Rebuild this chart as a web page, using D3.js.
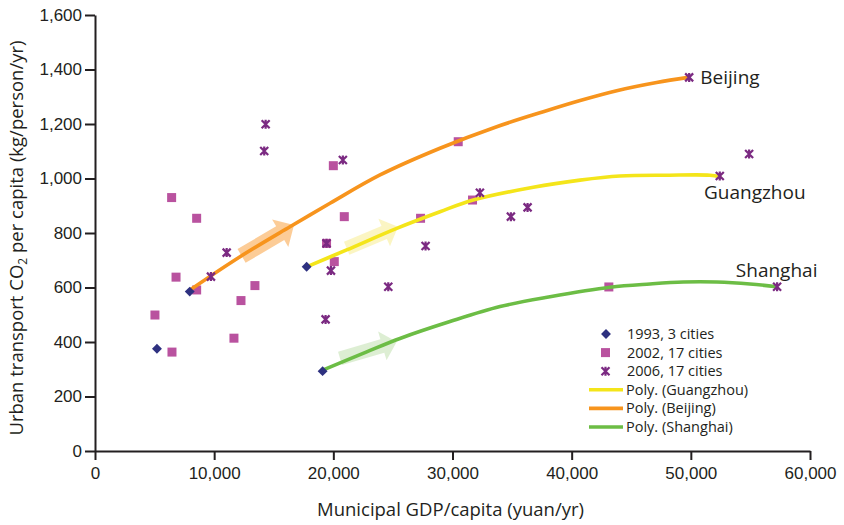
<!DOCTYPE html>
<html>
<head>
<meta charset="utf-8">
<script src="https://cdn.jsdelivr.net/npm/d3@7"></script>
<style>
  body { margin: 0; background: #fff; }
  svg { font-family: "Open Sans", "Noto Sans", sans-serif; }
  .axis path, .axis line { stroke: #231f20; stroke-width: 2; }
  .axis text { fill: #231f20; }
</style>
</head>
<body>
<div id="chart"></div>
<script>
// data
const xTicks = [0, 10000, 20000, 30000, 40000, 50000, 60000];
const yTicks = [0, 200, 400, 600, 800, 1000, 1200, 1400, 1600];

const pts1993 = [[5200, 375], [7950, 585], [17760, 676], [19100, 293]];
const pts2002 = [
  [5030, 499], [6460, 363], [6430, 930], [6800, 638], [8530, 854], [8530, 591],
  [11660, 414], [12250, 552], [13420, 607], [19430, 762], [20000, 1047], [20080, 695],
  [20920, 860], [27320, 854], [30480, 1135], [31680, 921], [43120, 602]
];
const pts2006 = [
  [14320, 1199], [14200, 1101], [11050, 728], [9730, 640], [19430, 762], [19800, 662],
  [24610, 603], [19350, 483], [27740, 752], [20800, 1068], [32300, 948], [34900, 860],
  [36300, 894], [49860, 1371], [54890, 1090], [52430, 1009], [57240, 603]
];

const beijing = [
  [7970, 591], [12170, 713], [16360, 823], [19720, 909], [23920, 1013], [28950, 1111],
  [33710, 1190], [37620, 1245], [40710, 1286], [43780, 1322], [47130, 1352], [49790, 1371]
];
const guangzhou = [
  [17760, 676], [21120, 738], [25320, 817], [28950, 878], [31740, 921], [36780, 968],
  [40700, 994], [44050, 1009], [48000, 1012], [51600, 1012], [52430, 1006]
];
const shanghai = [
  [19110, 297], [22800, 364], [25590, 413], [29790, 475], [33990, 530], [38180, 566],
  [43220, 601], [46570, 613], [49370, 620], [52170, 620], [54960, 613], [57200, 603]
];

// arrows: [tailX, tailY, tipX, tipY]
const arrowBeijing = [12300, 716, 16700, 829];
const arrowGuangzhou = [21120, 744, 25430, 823];
const arrowShanghai = [20560, 340, 25320, 401];

const cityLabels = ["Beijing", "Guangzhou", "Shanghai"];
const legendItems = ["1993, 3 cities", "2002, 17 cities", "2006, 17 cities",
  "Poly. (Guangzhou)", "Poly. (Beijing)", "Poly. (Shanghai)"];

const W = 844, H = 525;
const margin = { top: 15, right: 34, bottom: 74, left: 95 };
const innerW = W - margin.left - margin.right;
const innerH = H - margin.top - margin.bottom;

const cOrange = "#f7941d", cYellow = "#f4e51a", cGreen = "#6cbd45";
const cNavy = "#2e3180", cPink = "#b9529f", cPurple = "#7b2a82";

const svg = d3.select("#chart").append("svg")
  .attr("width", W).attr("height", H);

const g = svg.append("g")
  .attr("transform", `translate(${margin.left}, ${margin.top})`);

const x = d3.scaleLinear().domain([0, 60000]).range([0, innerW]);
const y = d3.scaleLinear().domain([0, 1600]).range([innerH, 0]);

// axes
g.append("g")
  .attr("class", "axis")
  .attr("transform", `translate(0, ${innerH})`)
  .call(d3.axisBottom(x).tickValues(xTicks).tickFormat(d3.format(",")).tickSize(9).tickSizeOuter(0).tickPadding(7));
g.append("g")
  .attr("class", "axis")
  .call(d3.axisLeft(y).tickValues(yTicks).tickFormat(d3.format(",")).tickSize(10).tickSizeOuter(0).tickPadding(3));

g.selectAll(".axis text").attr("font-size", 17);

// axis titles
svg.append("text")
  .attr("x", margin.left + x(30000) - 2).attr("y", 516)
  .attr("text-anchor", "middle").attr("font-size", 18.5).attr("fill", "#231f20")
  .text("Municipal GDP/capita (yuan/yr)");

const yt = svg.append("text")
  .attr("transform", `translate(23, ${margin.top + y(800) + 5}) rotate(-90)`)
  .attr("text-anchor", "middle").attr("font-size", 18.5).attr("fill", "#231f20");
yt.append("tspan").text("Urban transport CO");
yt.append("tspan").attr("font-size", 12).attr("dy", 4).text("2");
yt.append("tspan").attr("dy", -4).text(" per capita (kg/person/yr)");

// arrows
function arrowPath(a, sw, hw, hl) {
  const x0 = x(a[0]), y0 = y(a[1]), x1 = x(a[2]), y1 = y(a[3]);
  const dx = x1 - x0, dy = y1 - y0, len = Math.hypot(dx, dy);
  const ux = dx / len, uy = dy / len, nx = -uy, ny = ux;
  const bx = x1 - ux * hl, by = y1 - uy * hl;
  const p = [
    [x0 + nx * sw, y0 + ny * sw], [bx + nx * sw, by + ny * sw], [bx + nx * hw, by + ny * hw],
    [x1, y1], [bx - nx * hw, by - ny * hw], [bx - nx * sw, by - ny * sw], [x0 - nx * sw, y0 - ny * sw]
  ];
  return "M" + p.map(q => q.join(",")).join("L") + "Z";
}
g.append("path").attr("d", arrowPath(arrowBeijing, 8, 16, 16)).attr("fill", "#fcc68c").attr("opacity", 0.9);
g.append("path").attr("d", arrowPath(arrowGuangzhou, 7, 15, 15)).attr("fill", "#fbf4bd").attr("opacity", 0.9);
g.append("path").attr("d", arrowPath(arrowShanghai, 7, 15, 15)).attr("fill", "#d9ecce").attr("opacity", 0.9);

// markers
g.selectAll(".sq").data(pts2002).enter().append("rect")
  .attr("x", d => x(d[0]) - 4.5).attr("y", d => y(d[1]) - 4.5)
  .attr("width", 9).attr("height", 9).attr("fill", cPink);

const line = d3.line().x(d => x(d[0])).y(d => y(d[1])).curve(d3.curveCatmullRom.alpha(0.5));
[[guangzhou, cYellow], [beijing, cOrange], [shanghai, cGreen]].forEach(([data, c]) => {
  g.append("path").datum(data).attr("d", line)
    .attr("fill", "none").attr("stroke", c).attr("stroke-width", 3.6).attr("stroke-linecap", "round");
});

const starD = "M-4,-4L4,4M-4,4L4,-4M0,-4.5L0,4.5";
g.selectAll(".st").data(pts2006).enter().append("path")
  .attr("transform", d => `translate(${x(d[0])}, ${y(d[1])})`)
  .attr("d", starD).attr("fill", "none").attr("stroke", cPurple).attr("stroke-width", 2.2);

g.selectAll(".dm").data(pts1993).enter().append("rect")
  .attr("transform", d => `translate(${x(d[0])}, ${y(d[1])}) rotate(45)`)
  .attr("x", -3.5).attr("y", -3.5).attr("width", 7).attr("height", 7).attr("fill", cNavy);

// city labels
const labelPos = [[beijing[beijing.length - 1], 12, 7, "start"],
  [guangzhou[guangzhou.length - 1], 35, 22, "middle"],
  [shanghai[shanghai.length - 1], 0, -10, "middle"]];
labelPos.forEach(([p, dx, dy, anchor], i) => {
  g.append("text").attr("x", x(p[0]) + dx).attr("y", y(p[1]) + dy)
    .attr("text-anchor", anchor).attr("font-size", 19).attr("fill", "#231f20")
    .text(cityLabels[i]);
});

// legend
const lg = svg.append("g").attr("transform", "translate(589, 334)");
legendItems.forEach((t, i) => {
  const ly = i * 18.6;
  const row = lg.append("g").attr("transform", `translate(0, ${ly})`);
  if (i === 0) row.append("rect").attr("x", 13.5).attr("y", -3.5).attr("width", 7).attr("height", 7)
    .attr("transform", "rotate(45, 17, 0)").attr("fill", cNavy);
  if (i === 1) row.append("rect").attr("x", 12).attr("y", -4.5).attr("width", 9).attr("height", 9).attr("fill", cPink);
  if (i === 2) row.append("path").attr("transform", "translate(16.5, 0)").attr("d", starD)
    .attr("fill", "none").attr("stroke", cPurple).attr("stroke-width", 2.2);
  if (i >= 3) row.append("line").attr("x1", 0).attr("x2", 34).attr("y1", 0).attr("y2", 0)
    .attr("stroke", [cYellow, cOrange, cGreen][i - 3]).attr("stroke-width", 3.6);
  row.append("text").attr("x", i < 3 ? 38 : 37).attr("y", 5)
    .attr("font-size", 14.5).attr("fill", "#231f20").text(t);
});
</script>
</body>
</html>
